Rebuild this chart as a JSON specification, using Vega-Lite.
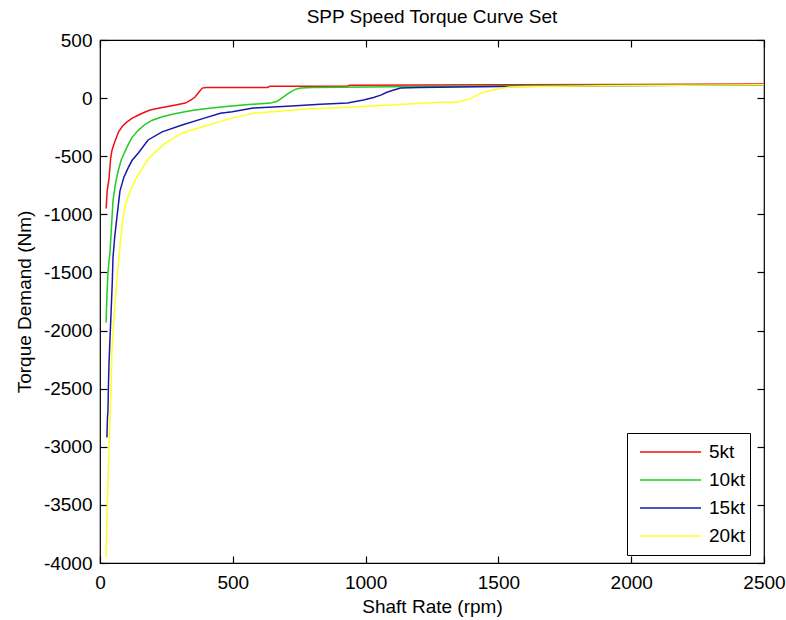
{
  "$schema": "https://vega.github.io/schema/vega-lite/v6.json",
  "width": 664,
  "height": 523,
  "autosize": {"type": "none"},
  "padding": {"left": 100, "top": 40, "right": 22, "bottom": 57},
  "background": "white",
  "config": {
    "font": "Liberation Sans",
    "view": {"stroke": "black", "strokeWidth": 1.2},
    "axis": {"grid": false, "domain": false, "labelFont": "Liberation Sans", "titleFont": "Liberation Sans", "labelFontSize": 19, "titleFontSize": 19, "titleFontWeight": "normal", "labelColor": "black", "titleColor": "black", "tickColor": "black", "tickWidth": 1.2}
  },
  "title": {"text": "SPP Speed Torque Curve Set", "font": "Liberation Sans", "fontSize": 19, "fontWeight": "normal", "color": "black", "offset": 4, "anchor": "middle"},
  "data": {"values": [
    {"s": "5kt", "rpm": 23, "t": -950}, {"s": "5kt", "rpm": 27, "t": -800}, {"s": "5kt", "rpm": 34, "t": -690}, {"s": "5kt", "rpm": 40, "t": -520}, {"s": "5kt", "rpm": 45, "t": -450}, {"s": "5kt", "rpm": 55, "t": -380}, {"s": "5kt", "rpm": 70, "t": -290}, {"s": "5kt", "rpm": 85, "t": -240}, {"s": "5kt", "rpm": 102, "t": -205}, {"s": "5kt", "rpm": 120, "t": -175}, {"s": "5kt", "rpm": 145, "t": -145}, {"s": "5kt", "rpm": 170, "t": -120}, {"s": "5kt", "rpm": 189, "t": -103}, {"s": "5kt", "rpm": 215, "t": -90}, {"s": "5kt", "rpm": 245, "t": -77}, {"s": "5kt", "rpm": 285, "t": -60}, {"s": "5kt", "rpm": 321, "t": -43}, {"s": "5kt", "rpm": 340, "t": -20}, {"s": "5kt", "rpm": 358, "t": 9}, {"s": "5kt", "rpm": 372, "t": 50}, {"s": "5kt", "rpm": 385, "t": 86}, {"s": "5kt", "rpm": 400, "t": 92}, {"s": "5kt", "rpm": 630, "t": 92}, {"s": "5kt", "rpm": 640, "t": 102}, {"s": "5kt", "rpm": 930, "t": 103}, {"s": "5kt", "rpm": 940, "t": 110}, {"s": "5kt", "rpm": 1500, "t": 114}, {"s": "5kt", "rpm": 2000, "t": 118}, {"s": "5kt", "rpm": 2500, "t": 122},
    {"s": "10kt", "rpm": 23, "t": -1930}, {"s": "10kt", "rpm": 26, "t": -1700}, {"s": "10kt", "rpm": 30, "t": -1500}, {"s": "10kt", "rpm": 38, "t": -1310}, {"s": "10kt", "rpm": 44, "t": -1080}, {"s": "10kt", "rpm": 49, "t": -880}, {"s": "10kt", "rpm": 58, "t": -740}, {"s": "10kt", "rpm": 67, "t": -640}, {"s": "10kt", "rpm": 80, "t": -530}, {"s": "10kt", "rpm": 102, "t": -420}, {"s": "10kt", "rpm": 120, "t": -340}, {"s": "10kt", "rpm": 145, "t": -275}, {"s": "10kt", "rpm": 170, "t": -225}, {"s": "10kt", "rpm": 197, "t": -190}, {"s": "10kt", "rpm": 235, "t": -160}, {"s": "10kt", "rpm": 272, "t": -138}, {"s": "10kt", "rpm": 315, "t": -120}, {"s": "10kt", "rpm": 358, "t": -103}, {"s": "10kt", "rpm": 420, "t": -85}, {"s": "10kt", "rpm": 484, "t": -69}, {"s": "10kt", "rpm": 560, "t": -55}, {"s": "10kt", "rpm": 642, "t": -43}, {"s": "10kt", "rpm": 665, "t": -30}, {"s": "10kt", "rpm": 679, "t": -8}, {"s": "10kt", "rpm": 700, "t": 25}, {"s": "10kt", "rpm": 717, "t": 52}, {"s": "10kt", "rpm": 735, "t": 75}, {"s": "10kt", "rpm": 755, "t": 86}, {"s": "10kt", "rpm": 800, "t": 92}, {"s": "10kt", "rpm": 1200, "t": 100}, {"s": "10kt", "rpm": 1500, "t": 105}, {"s": "10kt", "rpm": 1900, "t": 110}, {"s": "10kt", "rpm": 2500, "t": 116},
    {"s": "15kt", "rpm": 26, "t": -2920}, {"s": "15kt", "rpm": 28, "t": -2750}, {"s": "15kt", "rpm": 30, "t": -2690}, {"s": "15kt", "rpm": 32, "t": -2450}, {"s": "15kt", "rpm": 34, "t": -2280}, {"s": "15kt", "rpm": 38, "t": -2050}, {"s": "15kt", "rpm": 42, "t": -1825}, {"s": "15kt", "rpm": 46, "t": -1600}, {"s": "15kt", "rpm": 49, "t": -1370}, {"s": "15kt", "rpm": 56, "t": -1180}, {"s": "15kt", "rpm": 64, "t": -1020}, {"s": "15kt", "rpm": 75, "t": -800}, {"s": "15kt", "rpm": 90, "t": -680}, {"s": "15kt", "rpm": 106, "t": -600}, {"s": "15kt", "rpm": 121, "t": -535}, {"s": "15kt", "rpm": 145, "t": -470}, {"s": "15kt", "rpm": 181, "t": -360}, {"s": "15kt", "rpm": 234, "t": -290}, {"s": "15kt", "rpm": 309, "t": -232}, {"s": "15kt", "rpm": 396, "t": -170}, {"s": "15kt", "rpm": 453, "t": -130}, {"s": "15kt", "rpm": 498, "t": -118}, {"s": "15kt", "rpm": 577, "t": -86}, {"s": "15kt", "rpm": 705, "t": -69}, {"s": "15kt", "rpm": 830, "t": -52}, {"s": "15kt", "rpm": 932, "t": -43}, {"s": "15kt", "rpm": 992, "t": -17}, {"s": "15kt", "rpm": 1030, "t": 5}, {"s": "15kt", "rpm": 1057, "t": 26}, {"s": "15kt", "rpm": 1080, "t": 50}, {"s": "15kt", "rpm": 1106, "t": 69}, {"s": "15kt", "rpm": 1132, "t": 86}, {"s": "15kt", "rpm": 1200, "t": 92}, {"s": "15kt", "rpm": 1500, "t": 100}, {"s": "15kt", "rpm": 1900, "t": 106}, {"s": "15kt", "rpm": 2500, "t": 114},
    {"s": "20kt", "rpm": 23, "t": -3950}, {"s": "20kt", "rpm": 26, "t": -3600}, {"s": "20kt", "rpm": 30, "t": -3315}, {"s": "20kt", "rpm": 34, "t": -3000}, {"s": "20kt", "rpm": 38, "t": -2745}, {"s": "20kt", "rpm": 42, "t": -2450}, {"s": "20kt", "rpm": 45, "t": -2170}, {"s": "20kt", "rpm": 51, "t": -1950}, {"s": "20kt", "rpm": 57, "t": -1740}, {"s": "20kt", "rpm": 68, "t": -1455}, {"s": "20kt", "rpm": 77, "t": -1230}, {"s": "20kt", "rpm": 87, "t": -1020}, {"s": "20kt", "rpm": 100, "t": -880}, {"s": "20kt", "rpm": 121, "t": -760}, {"s": "20kt", "rpm": 143, "t": -660}, {"s": "20kt", "rpm": 183, "t": -520}, {"s": "20kt", "rpm": 210, "t": -460}, {"s": "20kt", "rpm": 245, "t": -390}, {"s": "20kt", "rpm": 309, "t": -300}, {"s": "20kt", "rpm": 396, "t": -240}, {"s": "20kt", "rpm": 498, "t": -172}, {"s": "20kt", "rpm": 577, "t": -130}, {"s": "20kt", "rpm": 766, "t": -95}, {"s": "20kt", "rpm": 955, "t": -77}, {"s": "20kt", "rpm": 1143, "t": -52}, {"s": "20kt", "rpm": 1283, "t": -35}, {"s": "20kt", "rpm": 1347, "t": -35}, {"s": "20kt", "rpm": 1400, "t": 0}, {"s": "20kt", "rpm": 1434, "t": 43}, {"s": "20kt", "rpm": 1470, "t": 65}, {"s": "20kt", "rpm": 1498, "t": 78}, {"s": "20kt", "rpm": 1540, "t": 95}, {"s": "20kt", "rpm": 1600, "t": 100}, {"s": "20kt", "rpm": 2000, "t": 108}, {"s": "20kt", "rpm": 2500, "t": 114}
  ]},
  "layer": [
    {
      "mark": {"type": "line", "strokeWidth": 1.5, "clip": true},
      "encoding": {
        "x": {"field": "rpm", "type": "quantitative", "scale": {"domain": [0, 2500], "nice": false, "zero": false}, "axis": {"values": [0, 500, 1000, 1500, 2000, 2500], "labelExpr": "'' + datum.value", "title": "Shaft Rate (rpm)", "tickSize": -7, "labelPadding": 17, "titlePadding": 5, "labelFlush": false}},
        "y": {"field": "t", "type": "quantitative", "scale": {"domain": [-4000, 500], "nice": false, "zero": false}, "axis": {"values": [-4000, -3500, -3000, -2500, -2000, -1500, -1000, -500, 0, 500], "labelExpr": "'' + datum.value", "title": "Torque Demand (Nm)", "tickSize": -7, "labelPadding": 15, "titlePadding": 9, "labelFlush": false}},
        "color": {"field": "s", "type": "nominal", "sort": ["5kt", "10kt", "15kt", "20kt"], "scale": {"domain": ["5kt", "10kt", "15kt", "20kt"], "range": ["#ee1111", "#22cc22", "#1a1aa8", "#ffff22"]},
          "legend": {"title": null, "orient": "none", "legendX": 527, "legendY": 393, "fillColor": "white", "strokeColor": "black", "padding": 5, "symbolType": "stroke", "symbolSize": 3721, "symbolStrokeWidth": 1.5, "clipHeight": 28, "symbolOffset": 7, "labelFontSize": 19, "labelFont": "Liberation Sans", "labelColor": "black", "labelOffset": 7, "rowPadding": 0}}
      }
    },
    {
      "mark": {"type": "line", "strokeOpacity": 0},
      "encoding": {
        "x": {"field": "rpm", "type": "quantitative", "axis": {"orient": "top", "values": [0, 500, 1000, 1500, 2000, 2500], "labels": false, "title": null, "tickSize": -7}},
        "y": {"field": "t", "type": "quantitative", "axis": {"orient": "right", "values": [-4000, -3500, -3000, -2500, -2000, -1500, -1000, -500, 0, 500], "labels": false, "title": null, "tickSize": -7}}
      }
    }
  ],
  "resolve": {"axis": {"x": "independent", "y": "independent"}}
}
